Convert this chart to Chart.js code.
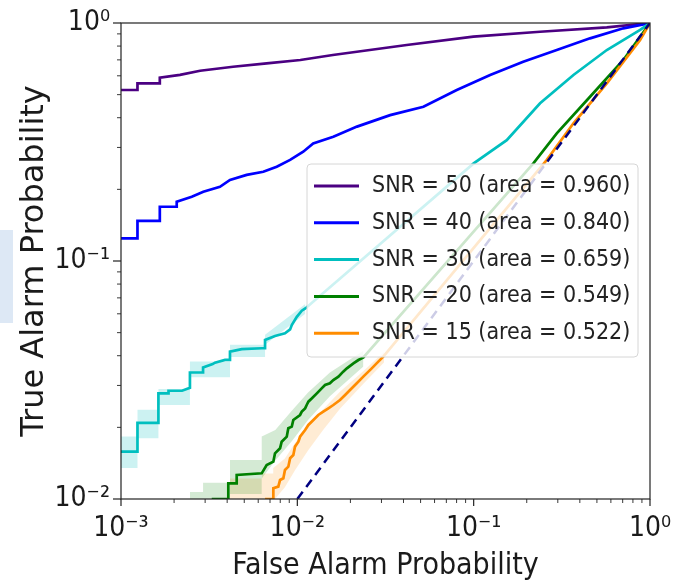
<!DOCTYPE html>
<html lang="en">
<head>
<meta charset="UTF-8">
<title>ROC curves by SNR</title>
<script src="https://cdn.jsdelivr.net/npm/chart.js"></script>
<style>
  html, body { margin: 0; padding: 0; background: #fff; }
  #wrap { position: relative; width: 680px; height: 584px; }
  /* the pale blue tab at the left edge of the original screenshot */
  #tab { position: absolute; left: 0; top: 230px; width: 13px; height: 93px; background: #dde8f5; }
  canvas { position: absolute; left: 0; top: 0; }
</style>
</head>
<body>
<div id="wrap">
  <div id="tab"></div>
  <canvas id="roc" width="680" height="584"></canvas>
</div>
<script>
// tick labels
const xTickValues = [0.001, 0.01, 0.1, 1];
const xTickLabels = ['10⁻³', '10⁻²', '10⁻¹', '10⁰'];
const yTickValues = [0.01, 0.1, 1];
const yTickLabels = ['10⁻²', '10⁻¹', '10⁰'];

// legend
const snrLevels = [50, 40, 30, 20, 15];
const aucValues = ['0.960', '0.840', '0.659', '0.549', '0.522'];

// ROC curves (false alarm prob, true alarm prob)
const fpr50 = [0.001, 0.00124, 0.00124, 0.00166, 0.00166, 0.00216, 0.00281, 0.00432, 0.0067, 0.0104, 0.0159, 0.0417, 0.0996, 0.238, 0.569, 1];
const tpr50 = [0.523, 0.523, 0.558, 0.558, 0.589, 0.605, 0.63, 0.655, 0.677, 0.699, 0.734, 0.808, 0.876, 0.919, 0.959, 1];

const fpr40 = [0.001, 0.00124, 0.00124, 0.00166, 0.00166, 0.00207, 0.00207, 0.00252, 0.00293, 0.00364, 0.00415, 0.00516, 0.00641, 0.00764, 0.0091, 0.0108, 0.0123, 0.016, 0.0218, 0.0336, 0.0519, 0.0802, 0.124, 0.191, 0.296, 0.457, 0.706, 1];
const tpr40 = [0.1245, 0.1245, 0.1473, 0.1473, 0.169, 0.169, 0.1775, 0.1863, 0.1955, 0.205, 0.219, 0.23, 0.237, 0.249, 0.266, 0.288, 0.312, 0.333, 0.367, 0.41, 0.445, 0.523, 0.605, 0.688, 0.77, 0.862, 0.95, 1];

const fpr30 = [0.001, 0.00124, 0.00124, 0.00163, 0.00163, 0.00186, 0.00186, 0.00222, 0.00246, 0.00246, 0.00292, 0.00292, 0.00331, 0.00341, 0.00389, 0.00415, 0.00415, 0.00484, 0.00628, 0.00656, 0.00656, 0.00747, 0.00851, 0.0091, 0.0093, 0.00993, 0.0106, 0.0111, 0.1, 0.154, 0.238, 0.368, 0.569, 0.879, 1];
const tpr30 = [0.0158, 0.0158, 0.0209, 0.0209, 0.0278, 0.0278, 0.0285, 0.0285, 0.0293, 0.034, 0.034, 0.0357, 0.0369, 0.0374, 0.0384, 0.0384, 0.0416, 0.0426, 0.043, 0.043, 0.0466, 0.0484, 0.0497, 0.0516, 0.0538, 0.0583, 0.0618, 0.0632, 0.257, 0.322, 0.46, 0.605, 0.77, 0.935, 1];

const fpr20 = [0.00327, 0.00406, 0.00406, 0.00453, 0.00453, 0.00628, 0.0067, 0.00731, 0.00747, 0.00798, 0.00815, 0.00871, 0.00889, 0.0093, 0.00949, 0.01036, 0.0106, 0.01107, 0.0113, 0.01155, 0.0121, 0.0129, 0.01374, 0.01436, 0.0153, 0.016, 0.0171, 0.0182, 0.0191, 0.0208, 0.0222, 0.0237, 0.218, 0.296, 0.457, 0.706, 1];
const tpr20 = [0.01, 0.01, 0.01164, 0.01164, 0.01262, 0.01282, 0.0139, 0.01435, 0.01556, 0.01633, 0.01741, 0.01827, 0.01982, 0.02014, 0.02148, 0.02254, 0.02328, 0.02404, 0.02483, 0.02564, 0.02649, 0.02779, 0.02917, 0.03013, 0.03062, 0.03162, 0.03266, 0.03428, 0.0354, 0.03715, 0.03837, 0.03937, 0.257, 0.344, 0.49, 0.699, 1];

const fpr15 = [0.00656, 0.00731, 0.00731, 0.0078, 0.00798, 0.00833, 0.00851, 0.00889, 0.0091, 0.00949, 0.0097, 0.01014, 0.01036, 0.01107, 0.01155, 0.01233, 0.01315, 0.01403, 0.015, 0.016, 0.01746, 0.01866, 0.0199, 0.02173, 0.02366, 0.02642, 0.02879, 0.03073, 0.26, 0.368, 0.569, 0.879, 1];
const tpr15 = [0.01, 0.01, 0.0111, 0.01127, 0.01202, 0.01222, 0.01324, 0.01367, 0.01483, 0.01531, 0.0166, 0.01741, 0.01827, 0.0195, 0.02047, 0.02148, 0.02254, 0.02328, 0.02404, 0.02483, 0.02606, 0.02735, 0.0287, 0.03062, 0.03266, 0.0354, 0.03776, 0.03963, 0.266, 0.379, 0.558, 0.848, 1];

// chance line
const diagX = [0.01, 1];
const diagY = [0.01, 1];

// shaded uncertainty bands (only visible at low false alarm rates)
const bandX30 = [0.001, 0.00124, 0.00124, 0.00163, 0.00163, 0.00246, 0.00246, 0.00415, 0.00415, 0.00656, 0.00656, 0.0111];
const bandHi30 = [0.0183, 0.0183, 0.0237, 0.0237, 0.029, 0.029, 0.0378, 0.0378, 0.0445, 0.0445, 0.049, 0.066];
const bandLo30 = [0.0135, 0.0135, 0.018, 0.018, 0.0248, 0.0248, 0.0325, 0.0325, 0.0395, 0.0395, 0.0445, 0.06];

const bandX20 = [0.00246, 0.00292, 0.00292, 0.00415, 0.00415, 0.00628, 0.00628, 0.0075, 0.0093, 0.0115, 0.0153, 0.0237];
const bandHi20 = [0.0107, 0.0107, 0.0117, 0.0117, 0.0146, 0.0146, 0.0183, 0.0195, 0.0235, 0.028, 0.034, 0.042];
const bandLo20 = [0.009, 0.009, 0.009, 0.009, 0.0105, 0.0105, 0.0122, 0.0145, 0.0175, 0.0215, 0.027, 0.036];

const bandX15 = [0.00415, 0.0063, 0.0063, 0.0073, 0.0073, 0.0085, 0.0097, 0.0115, 0.014, 0.0175, 0.0237, 0.031];
const bandHi15 = [0.0122, 0.0122, 0.0128, 0.0128, 0.0135, 0.0148, 0.0172, 0.0203, 0.0238, 0.0283, 0.0345, 0.0415];
const bandLo15 = [0.009, 0.009, 0.009, 0.009, 0.0098, 0.0112, 0.0132, 0.016, 0.0195, 0.024, 0.0305, 0.0375];

const colors = ['#4b0082', '#0000ff', '#00bfbf', '#008000', '#ff8c00'];
const curves = [[fpr50, tpr50], [fpr40, tpr40], [fpr30, tpr30], [fpr20, tpr20], [fpr15, tpr15]];

const pts = (xs, ys) => xs.map((x, i) => ({ x, y: ys[i] }));

const datasets = [];
curves.forEach(([xs, ys], i) => {
  datasets.push({
    label: `SNR = ${snrLevels[i]} (area = ${aucValues[i]})`,
    data: pts(xs, ys),
    borderColor: colors[i],
    borderWidth: 2.7,
    pointRadius: 0,
    fill: false,
    order: 15 - i,
    inLegend: true
  });
});
datasets.push({
  label: 'chance',
  data: pts(diagX, diagY),
  borderColor: '#000080',
  borderWidth: 2.5,
  borderDash: [9, 6],
  pointRadius: 0,
  fill: false,
  order: 5
});
[[bandX30, bandHi30, bandLo30, 'rgba(0,191,191,0.2)'],
 [bandX20, bandHi20, bandLo20, 'rgba(0,128,0,0.17)'],
 [bandX15, bandHi15, bandLo15, 'rgba(255,140,0,0.17)']].forEach(([xs, hi, lo, c]) => {
  datasets.push({ label: 'band', data: pts(xs, hi), borderWidth: 0, pointRadius: 0, fill: false, order: 20 });
  datasets.push({ label: 'band', data: pts(xs, lo), borderWidth: 0, pointRadius: 0, fill: '-1', backgroundColor: c, order: 20 });
});

// legend inside the plot, matplotlib style
const insideLegend = {
  id: 'insideLegend',
  afterDatasetsDraw(chart) {
    const { ctx, chartArea: a } = chart;
    const items = chart.data.datasets.filter(d => d.inLegend);
    const right = a.right - 12, top = a.top + 141;
    const left = right - 331, rowH = 36.8;
    const h = items.length * rowH + 9;
    ctx.save();
    ctx.beginPath();
    ctx.roundRect(left, top, right - left, h, 4);
    ctx.fillStyle = 'rgba(255,255,255,0.8)';
    ctx.fill();
    ctx.strokeStyle = '#d6d6d6';
    ctx.lineWidth = 1;
    ctx.stroke();
    ctx.font = "23px 'DejaVu Sans Condensed', 'DejaVu Sans', sans-serif";
    ctx.textBaseline = 'middle';
    ctx.fillStyle = '#222';
    items.forEach((d, i) => {
      const cy = top + 22 + i * rowH;
      ctx.beginPath();
      ctx.moveTo(left + 7, cy);
      ctx.lineTo(left + 52, cy);
      ctx.strokeStyle = d.borderColor;
      ctx.lineWidth = 3;
      ctx.stroke();
      ctx.fillText(d.label, left + 65, cy);
    });
    ctx.restore();
  }
};

// box frame and matplotlib-like outward ticks (major + minor)
const axisFrame = {
  id: 'axisFrame',
  afterDraw(chart) {
    const { ctx, chartArea: a, scales: { x, y } } = chart;
    ctx.save();
    ctx.strokeStyle = '#222';
    ctx.lineWidth = 1.2;
    ctx.strokeRect(a.left, a.top, a.right - a.left, a.bottom - a.top);
    const tick = (x0, y0, x1, y1, w) => {
      ctx.lineWidth = w;
      ctx.beginPath(); ctx.moveTo(x0, y0); ctx.lineTo(x1, y1); ctx.stroke();
    };
    for (let e = -3; e <= 0; e++) {
      for (let m = 1; m <= 9; m++) {
        const v = m * Math.pow(10, e);
        if (v > 1.0001) break;
        const px = x.getPixelForValue(v);
        tick(px, a.bottom, px, a.bottom + (m === 1 ? 7 : 4), m === 1 ? 1.2 : 0.9);
      }
    }
    for (let e = -2; e <= 0; e++) {
      for (let m = 1; m <= 9; m++) {
        const v = m * Math.pow(10, e);
        if (v > 1.0001) break;
        const py = y.getPixelForValue(v);
        tick(a.left, py, a.left - (m === 1 ? 8 : 4), py, m === 1 ? 1.2 : 0.9);
      }
    }
    ctx.restore();
  }
};

const condensed = "'DejaVu Sans Condensed', 'DejaVu Sans', sans-serif";

new Chart(document.getElementById('roc'), {
  type: 'line',
  data: { datasets },
  options: {
    responsive: false,
    devicePixelRatio: 1,
    animation: false,
    layout: { padding: { top: 23, right: 30, left: 0, bottom: 0 } },
    plugins: { legend: { display: false }, tooltip: { enabled: false } },
    scales: {
      x: {
        type: 'logarithmic',
        min: 0.001,
        max: 1,
        afterBuildTicks: s => { s.ticks = xTickValues.map(v => ({ value: v, major: true })); },
        afterFit: s => { s.height = 85; s.paddingLeft = 0; s.paddingRight = 0; },
        grid: { display: false, drawTicks: false },
        border: { display: false },
        ticks: {
          autoSkip: false, maxRotation: 0, padding: 13, color: '#1a1a1a',
          font: { family: condensed, size: 28 },
          callback: (v, i) => xTickLabels[i]
        },
        title: {
          display: true, text: 'False Alarm Probability', color: '#1a1a1a',
          font: { family: condensed, size: 30 }, padding: 0
        }
      },
      y: {
        type: 'logarithmic',
        min: 0.01,
        max: 1,
        afterBuildTicks: s => { s.ticks = yTickValues.map(v => ({ value: v, major: true })); },
        afterFit: s => { s.width = 121; s.paddingTop = 0; s.paddingBottom = 0; },
        grid: { display: false, drawTicks: false },
        border: { display: false },
        ticks: {
          autoSkip: false, padding: 11, color: '#1a1a1a',
          font: { family: condensed, size: 28 },
          callback: (v, i) => yTickLabels[i]
        },
        title: {
          display: true, text: 'True Alarm Probability', color: '#1a1a1a',
          font: { family: "'DejaVu Sans', sans-serif", size: 32 }, padding: { top: 15, bottom: 0 }
        }
      }
    }
  },
  plugins: [insideLegend, axisFrame]
});
</script>
</body>
</html>
